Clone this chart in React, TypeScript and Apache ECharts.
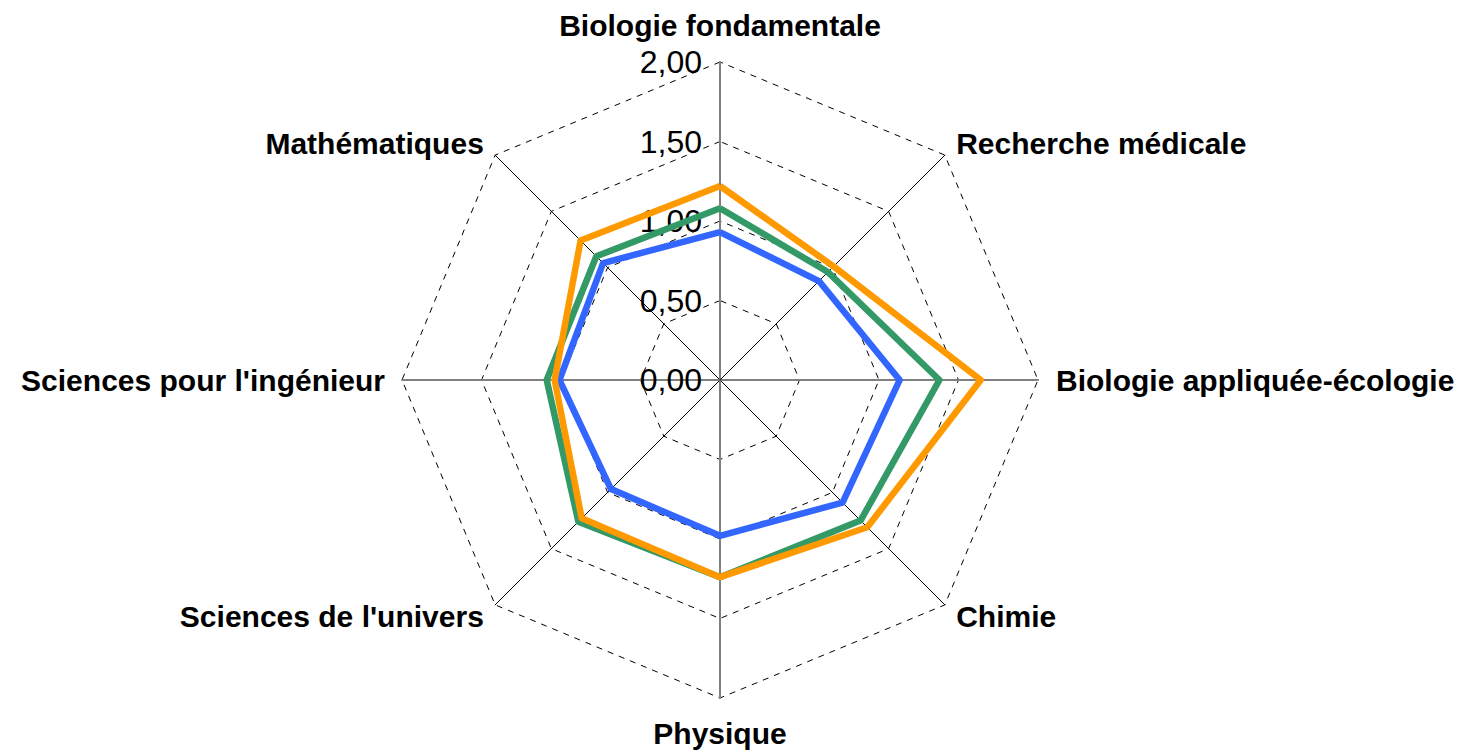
import React, { useEffect, useRef } from "react";
import * as echarts from "echarts";

const categories = [
  "Biologie fondamentale",
  "Recherche médicale",
  "Biologie appliquée-écologie",
  "Chimie",
  "Physique",
  "Sciences de l'univers",
  "Sciences pour l'ingénieur",
  "Mathématiques",
];

const blueValues = [0.93, 0.88, 1.13, 1.09, 0.98, 0.97, 1.01, 1.04];
const greenValues = [1.08, 0.96, 1.38, 1.25, 1.24, 1.26, 1.09, 1.1];
const orangeValues = [1.22, 1.01, 1.64, 1.31, 1.24, 1.23, 1.04, 1.24];

const axisMax = 2;
const splitCount = 4;

// ECharts places radar indicators counter-clockwise; reorder so they read clockwise.
const order = [0, 7, 6, 5, 4, 3, 2, 1];
const nameGaps = [22, 16, 18, 16, 20, 16, 17, 16];

export default function App() {
  const ref = useRef<HTMLDivElement>(null);
  useEffect(() => {
    if (!ref.current) return;
    const chart = echarts.init(ref.current, null, { renderer: "svg" });
    const grayAxis = { lineStyle: { color: "#808080", width: 2, type: "solid" } };
    const indicator = order.map((i) => {
      const ind: any = { name: categories[i], max: axisMax, min: 0, nameGap: nameGaps[i] };
      if (i % 2 === 0) ind.axisLine = grayAxis;
      if (i === 0) {
        ind.axisLabel = {
          show: true,
          color: "#000",
          fontSize: 32,
          fontFamily: "Liberation Sans, Arial, sans-serif",
          margin: 18,
          formatter: (v: number) => v.toFixed(2).replace(".", ","),
        };
      }
      return ind;
    });
    const pick = (arr: number[]) => order.map((i) => arr[i]);
    chart.setOption({
      animation: false,
      radar: {
        center: [720, 380],
        radius: 318,
        startAngle: 90,
        splitNumber: splitCount,
        shape: "polygon",
        indicator,
        axisName: {
          color: "#000",
          fontSize: 30,
          fontWeight: "bold",
          fontFamily: "Liberation Sans, Arial, sans-serif",
        },
        nameGap: 16,
        axisLine: { show: true, lineStyle: { color: "#000", width: 1 } },
        axisTick: { show: false },
        axisLabel: { show: false },
        splitLine: { show: true, lineStyle: { color: "#000", width: 1, type: [6, 6] } },
        splitArea: { show: false },
      },
      series: [
        {
          type: "radar",
          symbol: "none",
          data: [
            { value: pick(blueValues), lineStyle: { color: "#3366FF", width: 6.5 } },
            { value: pick(greenValues), lineStyle: { color: "#339966", width: 6.5 } },
            { value: pick(orangeValues), lineStyle: { color: "#FF9900", width: 6.5 } },
          ],
        },
      ],
    });
    return () => chart.dispose();
  }, []);
  return (
    <div
      ref={ref}
      style={{ position: "fixed", left: 0, top: 0, width: 1462, height: 753, background: "#fff" }}
    />
  );
}
